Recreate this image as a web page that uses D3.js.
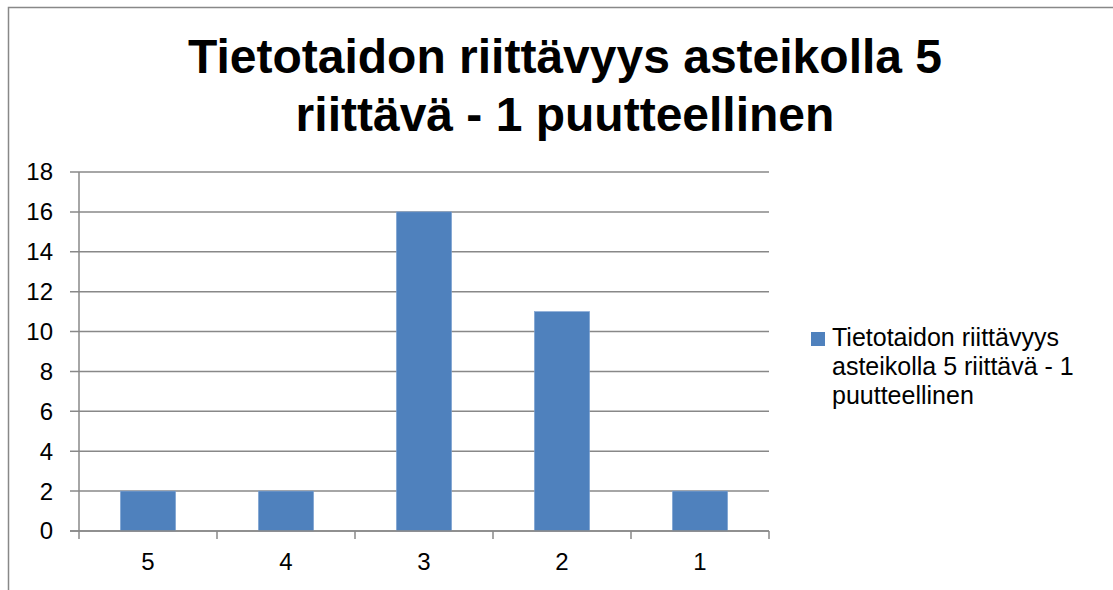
<!DOCTYPE html>
<html>
<head>
<meta charset="utf-8">
<script src="https://cdn.jsdelivr.net/npm/d3@7"></script>
<style>
  body { margin: 0; background: #fff; }
  svg text { font-family: "Liberation Sans", Arial, sans-serif; fill: #000; }
</style>
</head>
<body>
<div id="chart"></div>
<script>
// chart data
var categories = ['5', '4', '3', '2', '1'];
var values = [2, 2, 16, 11, 2];
var yTicks = [0, 2, 4, 6, 8, 10, 12, 14, 16, 18];
var titleLines = ['Tietotaidon riittävyys asteikolla 5', 'riittävä - 1 puutteellinen'];
var legendLines = ['Tietotaidon riittävyys', 'asteikolla 5 riittävä - 1', 'puutteellinen'];

function drawChart (id) {
  var width = 1113;
  var height = 590;
  var plot = { left: 79, right: 769, top: 172, bottom: 531 };
  var barColor = '#4F81BD';
  var gridColor = '#888888';

  var svg = d3.select('#' + id)
    .append('svg')
    .attr('width', width)
    .attr('height', height);

  // outer frame (only top and left edges are visible in the crop)
  svg.append('path')
    .attr('d', 'M8.5,' + height + 'V7.5H' + width)
    .attr('fill', 'none')
    .attr('stroke', gridColor)
    .attr('stroke-width', 1.5);

  // title
  svg.append('text')
    .attr('x', 565)
    .attr('y', 73)
    .attr('text-anchor', 'middle')
    .style('font-size', '48px')
    .style('font-weight', 'bold')
    .selectAll('tspan')
    .data(titleLines)
    .enter().append('tspan')
    .attr('x', 565)
    .attr('dy', function (d, i) { return i === 0 ? 0 : 58; })
    .text(function (d) { return d; });

  var xScale = d3.scaleBand()
    .domain(categories)
    .range([plot.left, plot.right])
    .padding(0);
  var yScale = d3.scaleLinear()
    .domain([0, 18])
    .range([plot.bottom, plot.top]);

  // gridlines
  svg.append('g')
    .selectAll('line')
    .data(yTicks)
    .enter().append('line')
    .attr('x1', plot.left - 9)
    .attr('x2', plot.right)
    .attr('y1', function (d) { return yScale(d); })
    .attr('y2', function (d) { return yScale(d); })
    .attr('stroke', gridColor)
    .attr('stroke-width', 1.5);

  // y axis line
  svg.append('line')
    .attr('x1', plot.left).attr('x2', plot.left)
    .attr('y1', plot.top).attr('y2', plot.bottom)
    .attr('stroke', gridColor)
    .attr('stroke-width', 1.5);

  // y labels
  svg.append('g')
    .selectAll('text')
    .data(yTicks)
    .enter().append('text')
    .attr('x', 53)
    .attr('y', function (d) { return yScale(d); })
    .attr('dy', '0.35em')
    .attr('text-anchor', 'end')
    .style('font-size', '24px')
    .text(function (d) { return d; });

  // x category ticks
  var bounds = categories.map(function (c) { return xScale(c); }).concat([plot.right]);
  svg.append('g')
    .selectAll('line')
    .data(bounds)
    .enter().append('line')
    .attr('x1', function (d) { return d; })
    .attr('x2', function (d) { return d; })
    .attr('y1', plot.bottom)
    .attr('y2', plot.bottom + 8)
    .attr('stroke', gridColor)
    .attr('stroke-width', 1.5);

  // bars
  var barW = xScale.bandwidth() * 0.4;
  svg.append('g')
    .selectAll('rect')
    .data(values)
    .enter().append('rect')
    .attr('x', function (d, i) { return xScale(categories[i]) + (xScale.bandwidth() - barW) / 2; })
    .attr('y', function (d) { return yScale(d); })
    .attr('width', barW)
    .attr('height', function (d) { return yScale(0) - yScale(d); })
    .attr('fill', barColor)
    .attr('stroke', '#7FA3D3')
    .attr('stroke-width', 0.6);

  // redraw zero line over the bars
  svg.append('line')
    .attr('x1', plot.left - 9).attr('x2', plot.right)
    .attr('y1', yScale(0)).attr('y2', yScale(0))
    .attr('stroke', gridColor)
    .attr('stroke-width', 1.5);

  // x labels
  svg.append('g')
    .selectAll('text')
    .data(categories)
    .enter().append('text')
    .attr('x', function (d) { return xScale(d) + xScale.bandwidth() / 2; })
    .attr('y', 570)
    .attr('text-anchor', 'middle')
    .style('font-size', '24px')
    .text(function (d) { return d; });

  // legend
  var legend = svg.append('g');
  legend.append('rect')
    .attr('x', 811)
    .attr('y', 332)
    .attr('width', 14)
    .attr('height', 14)
    .attr('fill', barColor);
  legend.append('text')
    .style('font-size', '25px')
    .selectAll('tspan')
    .data(legendLines)
    .enter().append('tspan')
    .attr('x', 832)
    .attr('y', function (d, i) { return 346 + i * 29; })
    .text(function (d) { return d; });
}

window.addEventListener('load', function () {
  drawChart('chart');
});
</script>
</body>
</html>
